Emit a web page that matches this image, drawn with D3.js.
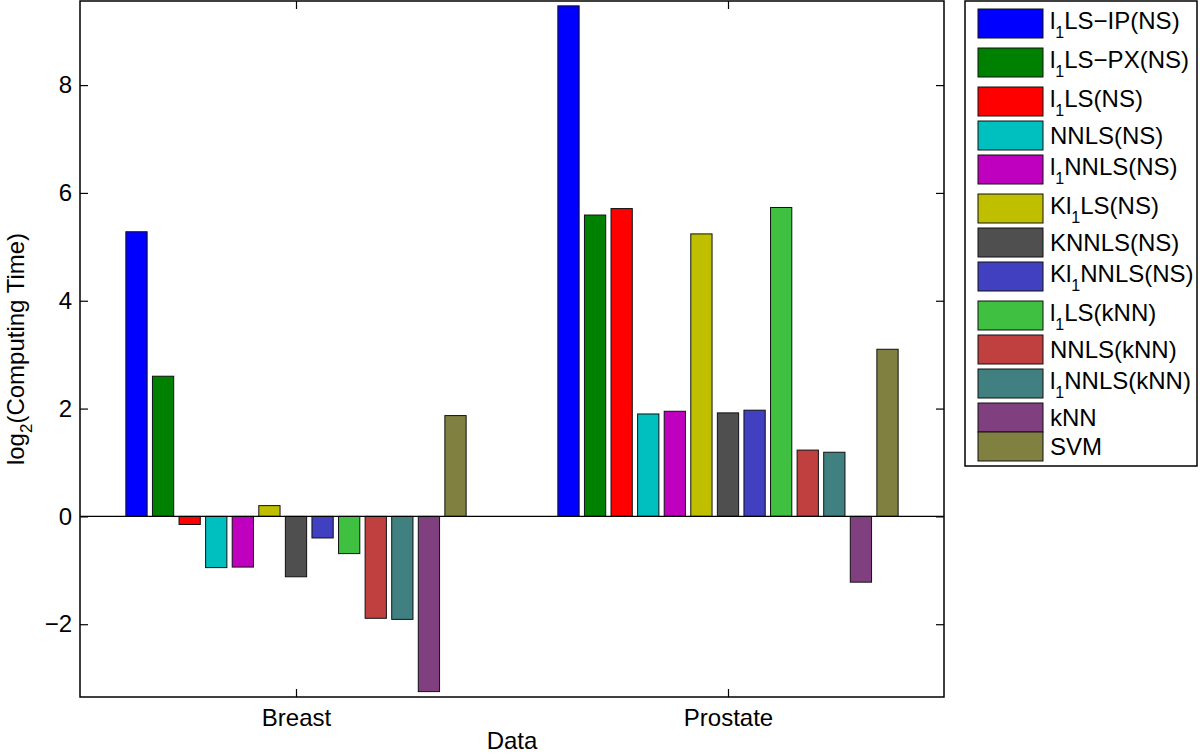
<!DOCTYPE html>
<html>
<head>
<meta charset="utf-8">
<script src="https://cdn.jsdelivr.net/npm/d3@7"></script>
<style>
  html, body { margin: 0; padding: 0; background: #fff; }
  svg { display: block; font-family: "Liberation Sans", Arial, Helvetica, sans-serif; }
</style>
</head>
<body>
<svg id="chart" width="1200" height="754"></svg>
<script>
// ---- data ----
const categories = ["Breast", "Prostate"];
const seriesNames = [
  {base: "l", sub: "1", rest: "LS\u2212IP(NS)"},
  {base: "l", sub: "1", rest: "LS\u2212PX(NS)"},
  {base: "l", sub: "1", rest: "LS(NS)"},
  {base: "NNLS(NS)", sub: "", rest: ""},
  {base: "l", sub: "1", rest: "NNLS(NS)"},
  {base: "Kl", sub: "1", rest: "LS(NS)"},
  {base: "KNNLS(NS)", sub: "", rest: ""},
  {base: "Kl", sub: "1", rest: "NNLS(NS)"},
  {base: "l", sub: "1", rest: "LS(kNN)"},
  {base: "NNLS(kNN)", sub: "", rest: ""},
  {base: "l", sub: "1", rest: "NNLS(kNN)"},
  {base: "kNN", sub: "", rest: ""},
  {base: "SVM", sub: "", rest: ""}
];
const breastValues   = [5.28, 2.60, -0.15, -0.95, -0.94, 0.20, -1.12, -0.40, -0.69, -1.89, -1.91, -3.25, 1.87];
const prostateValues = [9.47, 5.59, 5.71, 1.90, 1.95, 5.24, 1.92, 1.97, 5.73, 1.23, 1.19, -1.22, 3.10];
const colors = ["#0000ff", "#008000", "#ff0000", "#00bfbf", "#bf00bf", "#bfbf00", "#4f4f4f",
                "#4040c0", "#40c040", "#c04040", "#408080", "#804080", "#808040"];
const yTicks = [-2, 0, 2, 4, 6, 8];
const yDomain = [-3.35, 9.56];

// ---- layout ----
const svg = d3.select("#chart");
const L = 80, R = 944, T = 1, B = 697;
const FS = 24;

const x = d3.scaleLinear().domain([0.5, 2.5]).range([L, R]);
const y = d3.scaleLinear().domain(yDomain).range([B, T]);
const inner = d3.scaleBand().domain(d3.range(seriesNames.length))
  .range([-0.4, 0.4]).paddingInner(0.2).paddingOuter(0.1);
const unit = x(1) - x(0);

const groups = [breastValues, prostateValues];

// bars
groups.forEach((vals, gi) => {
  svg.append("g").selectAll("rect").data(vals).join("rect")
    .attr("x", (d, i) => x(gi + 1 + inner(i)))
    .attr("width", inner.bandwidth() * unit)
    .attr("y", d => y(Math.max(0, d)))
    .attr("height", d => Math.abs(y(d) - y(0)))
    .attr("fill", (d, i) => colors[i])
    .attr("stroke", "#111")
    .attr("stroke-width", 1);
});

// zero baseline
svg.append("line").attr("x1", L).attr("x2", R).attr("y1", y(0)).attr("y2", y(0))
  .attr("stroke", "#000").attr("stroke-width", 1.2);

// axes (inward ticks, box)
const axL = svg.append("g").attr("transform", `translate(${L},0)`)
  .call(d3.axisLeft(y).tickValues(yTicks).tickSize(-8).tickPadding(8).tickFormat(d => d < 0 ? "\u2212" + Math.abs(d) : d));
const axR = svg.append("g").attr("transform", `translate(${R},0)`)
  .call(d3.axisRight(y).tickValues(yTicks).tickSize(-8).tickFormat(""));
const axB = svg.append("g").attr("transform", `translate(0,${B})`)
  .call(d3.axisBottom(x).tickValues([1, 2]).tickSize(-8).tickPadding(12).tickFormat((d, i) => categories[i]));
const axT = svg.append("g").attr("transform", `translate(0,${T})`)
  .call(d3.axisTop(x).tickValues([1, 2]).tickSize(-8).tickFormat(""));
[axL, axR, axB, axT].forEach(a => {
  a.select(".domain").remove();
  a.selectAll("line").attr("stroke", "#000").attr("stroke-width", 1.2);
  a.selectAll("text").attr("font-size", FS).attr("fill", "#000")
    .attr("font-family", "'Liberation Sans', Arial, sans-serif");
});

// frame
svg.append("rect").attr("x", L).attr("y", T).attr("width", R - L).attr("height", B - T)
  .attr("fill", "none").attr("stroke", "#000").attr("stroke-width", 1.5);

// axis labels
svg.append("text").attr("x", (L + R) / 2).attr("y", 749).attr("text-anchor", "middle")
  .attr("font-size", FS).text("Data");
const yl = svg.append("text")
  .attr("transform", `translate(24,${(T + B) / 2}) rotate(-90)`)
  .attr("text-anchor", "middle").attr("font-size", FS);
yl.append("tspan").text("log");
yl.append("tspan").attr("font-size", 17).attr("dy", 8).text("2");
yl.append("tspan").attr("dy", -8).text("(Computing Time)");

// legend
const lg = svg.append("g");
const rowH = s => s.sub ? 39 : 29;
let centers = [];
let c = 23.5;
seriesNames.forEach((s, i) => {
  if (i > 0) c += (rowH(seriesNames[i - 1]) + rowH(s)) / 2;
  centers.push(c);
});
lg.append("rect").attr("x", 965).attr("y", 1).attr("width", 232)
  .attr("height", centers[centers.length - 1] + 18.5)
  .attr("fill", "#fff").attr("stroke", "#000").attr("stroke-width", 1.5);
seriesNames.forEach((s, i) => {
  const cy = centers[i];
  lg.append("rect").attr("x", 978).attr("y", cy - 14.5).attr("width", 65).attr("height", 29)
    .attr("fill", colors[i]).attr("stroke", "#111").attr("stroke-width", 1);
  const t = lg.append("text").attr("x", 1050).attr("y", s.sub ? cy + 5 : cy + 8.5)
    .attr("font-size", FS).attr("fill", "#000");
  t.append("tspan").text(s.base);
  if (s.sub) {
    t.append("tspan").attr("font-size", 16).attr("dy", 9).text(s.sub);
    t.append("tspan").attr("dy", -9).text(s.rest);
  }
});
</script>
</body>
</html>
